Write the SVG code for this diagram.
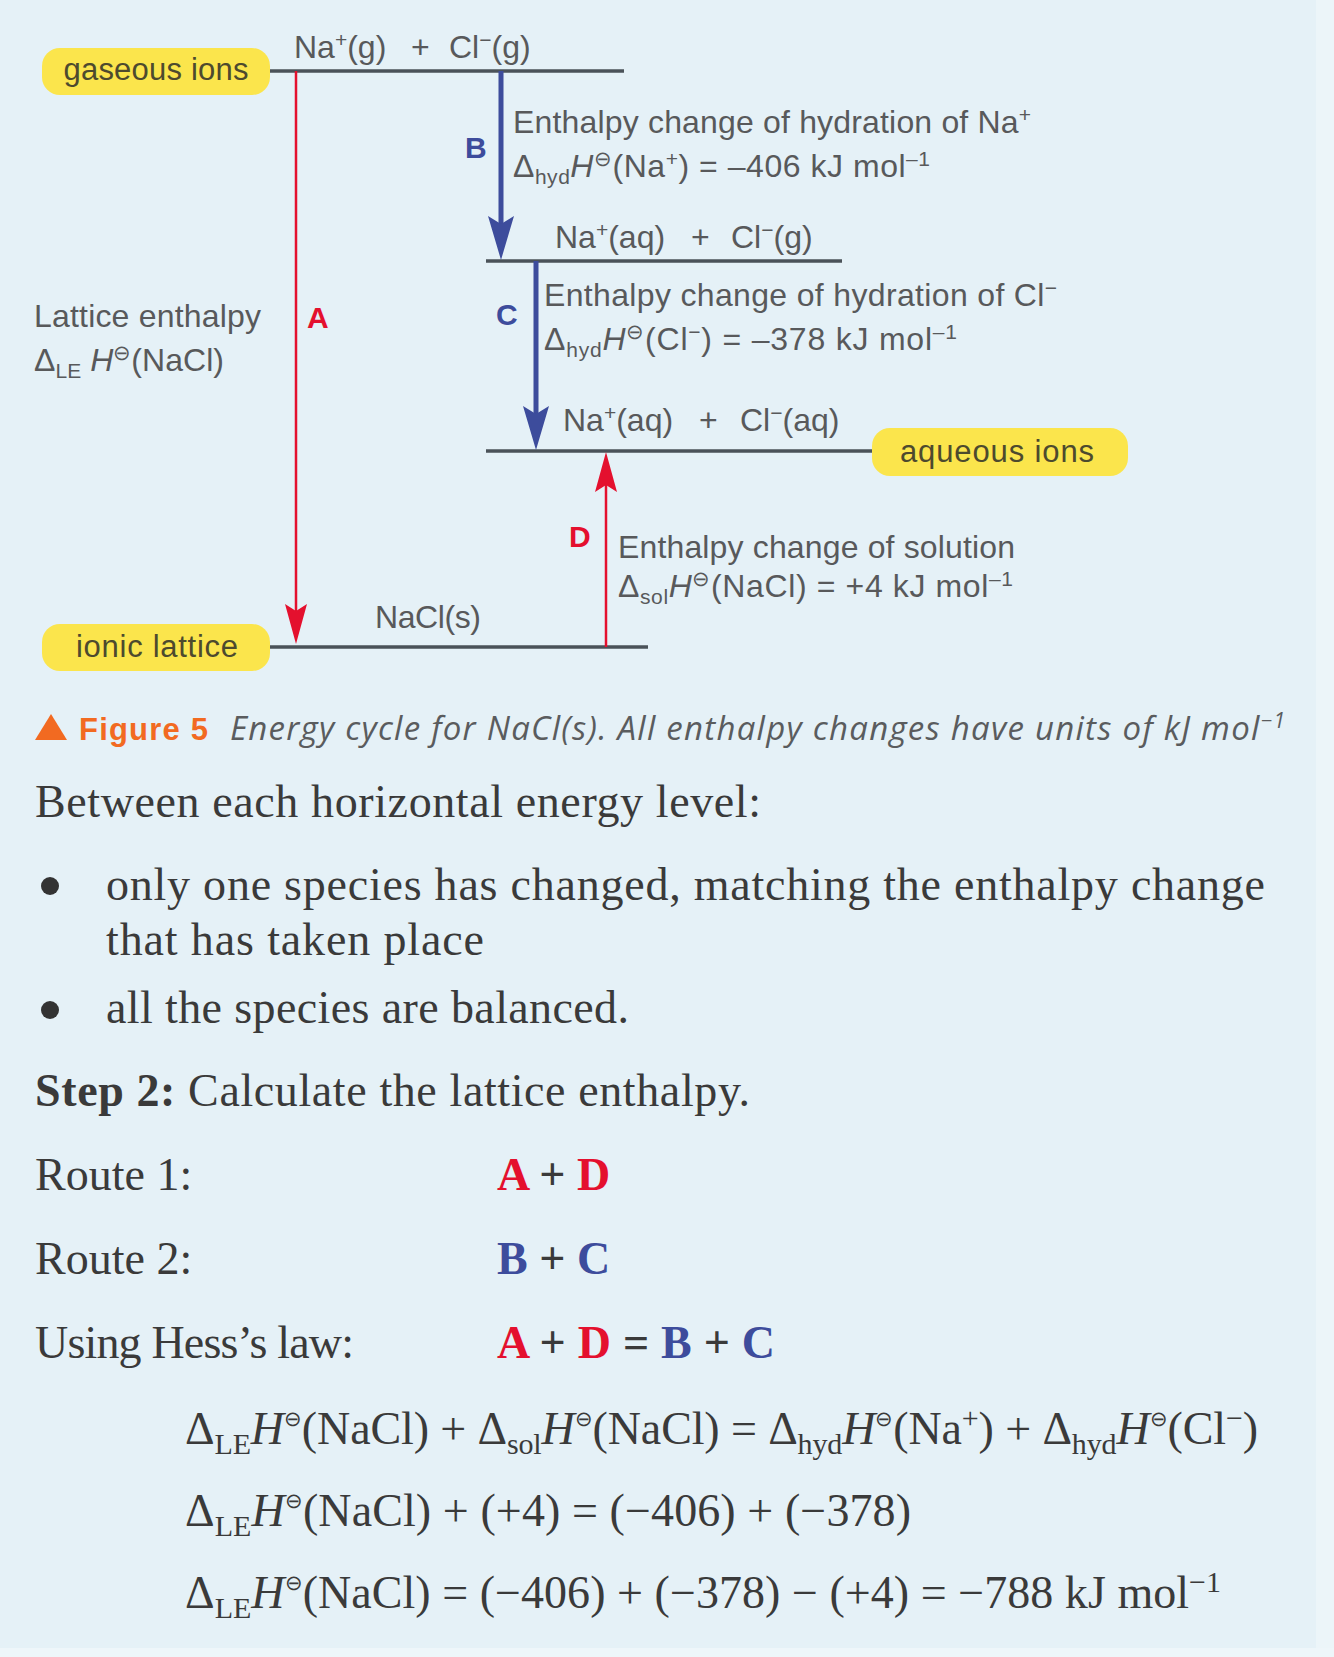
<svg xmlns="http://www.w3.org/2000/svg" width="1334" height="1657" viewBox="0 0 1334 1657">
<style>
.dg{font-family:"Liberation Sans",Arial,sans-serif;font-size:32px;fill:#58595b}
.pill{fill:#fbe54c}
.pt{font-family:"Liberation Sans",Arial,sans-serif;font-size:31px;fill:#4d4a2e;text-anchor:middle}
.lvl{stroke:#4a5259;stroke-width:3.5;fill:none}
.lbl{font-family:"Liberation Sans",Arial,sans-serif;font-size:30px;font-weight:bold}
.red{fill:#e4102e}
.blue{fill:#3d4c9c}
.body{font-family:"Liberation Serif","Times New Roman",serif;font-size:46px;fill:#3a3a3a}
.b{font-weight:bold}
.it{font-style:italic}
.s{font-size:21px}
.sb{font-size:30px}
.cap{font-family:"Open Sans","Liberation Sans",sans-serif;font-size:33px;font-style:italic;fill:#5a5c5e}
.fig{font-family:"Liberation Sans",Arial,sans-serif;font-size:31px;font-weight:bold;fill:#f26a21}
</style>
<defs>
<marker id="ahRed" markerUnits="userSpaceOnUse" viewBox="0 0 40 22" refX="26" refY="11" markerWidth="40" markerHeight="22" orient="auto">
<path d="M0,0 L40,11 L0,22 L7,11 z" fill="#e4102e"/>
</marker>
<marker id="ahBlue" markerUnits="userSpaceOnUse" viewBox="0 0 44 26" refX="28" refY="13" markerWidth="44" markerHeight="26" orient="auto">
<path d="M0,0 L44,13 L0,26 L8,13 z" fill="#3d4c9c"/>
</marker>
</defs>
<rect x="0" y="0" width="1334" height="1657" fill="#e5f1f7"/>
<rect x="1316" y="0" width="18" height="1657" fill="#ecf5f9"/>
<rect x="0" y="1648" width="1334" height="9" fill="#eef6fa"/>

<g id="levels">
<line class="lvl" x1="270" y1="71" x2="624" y2="71"/>
<line class="lvl" x1="486" y1="261" x2="842" y2="261"/>
<line class="lvl" x1="486" y1="451" x2="877" y2="451"/>
<line class="lvl" x1="264" y1="647" x2="648" y2="647"/>
</g>

<g id="connectors">
<line x1="296" y1="71" x2="296" y2="630" stroke="#e4102e" stroke-width="2.5" marker-end="url(#ahRed)"/>
<line x1="606" y1="647" x2="606" y2="466" stroke="#e4102e" stroke-width="2.5" marker-end="url(#ahRed)"/>
<line x1="501" y1="71" x2="501" y2="244" stroke="#3d4c9c" stroke-width="5" marker-end="url(#ahBlue)"/>
<line x1="536" y1="261" x2="536" y2="434" stroke="#3d4c9c" stroke-width="5" marker-end="url(#ahBlue)"/>
</g>

<g id="node-gaseous">
<rect class="pill" x="42" y="48" width="228" height="47" rx="18"/>
<text class="pt" x="156" y="80" textLength="185">gaseous ions</text>
<text class="dg" x="294" y="58">Na<tspan class="s" dy="-11">+</tspan><tspan dy="11">(g)</tspan><tspan x="411">+</tspan><tspan x="449">Cl</tspan><tspan class="s" dy="-11">−</tspan><tspan dy="11">(g)</tspan></text>
</g>

<g id="node-b">
<text class="lbl blue" x="465" y="158">B</text>
<text class="dg" x="513" y="133" textLength="518">Enthalpy change of hydration of Na<tspan class="s" dy="-11">+</tspan></text>
<text class="dg" x="513" y="177" textLength="417">Δ<tspan class="s" dy="7">hyd</tspan><tspan class="it" dy="-7">H</tspan><tspan class="s" dy="-11">⊖</tspan><tspan dy="11">(Na</tspan><tspan class="s" dy="-11">+</tspan><tspan dy="11">) = –406 kJ mol</tspan><tspan class="s" dy="-11">–1</tspan></text>
</g>

<g id="node-level2">
<text class="dg" x="555" y="248">Na<tspan class="s" dy="-11">+</tspan><tspan dy="11">(aq)</tspan><tspan x="691">+</tspan><tspan x="731">Cl</tspan><tspan class="s" dy="-11">−</tspan><tspan dy="11">(g)</tspan></text>
</g>

<g id="node-c">
<text class="lbl blue" x="496" y="325">C</text>
<text class="dg" x="544" y="306" textLength="513">Enthalpy change of hydration of Cl<tspan class="s" dy="-11">−</tspan></text>
<text class="dg" x="544" y="350" textLength="413">Δ<tspan class="s" dy="7">hyd</tspan><tspan class="it" dy="-7">H</tspan><tspan class="s" dy="-11">⊖</tspan><tspan dy="11">(Cl</tspan><tspan class="s" dy="-11">−</tspan><tspan dy="11">) = –378 kJ mol</tspan><tspan class="s" dy="-11">–1</tspan></text>
</g>

<g id="node-aqueous">
<text class="dg" x="563" y="431">Na<tspan class="s" dy="-11">+</tspan><tspan dy="11">(aq)</tspan><tspan x="699">+</tspan><tspan x="740">Cl</tspan><tspan class="s" dy="-11">−</tspan><tspan dy="11">(aq)</tspan></text>
<rect class="pill" x="872" y="428" width="256" height="48" rx="18"/>
<text class="pt" x="997" y="462" textLength="194">aqueous ions</text>
</g>

<g id="node-d">
<text class="lbl red" x="569" y="547">D</text>
<text class="dg" x="618" y="558" textLength="397">Enthalpy change of solution</text>
<text class="dg" x="618" y="597" textLength="395">Δ<tspan class="s" dy="7">sol</tspan><tspan class="it" dy="-7">H</tspan><tspan class="s" dy="-11">⊖</tspan><tspan dy="11">(NaCl) = +4 kJ mol</tspan><tspan class="s" dy="-11">–1</tspan></text>
</g>

<g id="node-a">
<text class="lbl red" x="307" y="328">A</text>
<text class="dg" x="34" y="327" textLength="227">Lattice enthalpy</text>
<text class="dg" x="34" y="371" textLength="190">Δ<tspan class="s" dy="7">LE</tspan><tspan class="it" dy="-7"> H</tspan><tspan class="s" dy="-11">⊖</tspan><tspan dy="11">(NaCl)</tspan></text>
</g>

<g id="node-lattice">
<rect class="pill" x="42" y="624" width="228" height="47" rx="18"/>
<text class="pt" x="157" y="657" textLength="162">ionic lattice</text>
<text class="dg" x="375" y="628" textLength="106">NaCl(s)</text>
</g>

<g id="caption">
<polygon points="35,740 51,714 67,740" fill="#f26a21"/>
<text class="fig" x="79" y="740" textLength="129">Figure 5</text>
<text class="cap" x="230" y="740" textLength="1055">Energy cycle for NaCl(s). All enthalpy changes have units of kJ mol<tspan class="s" dy="-12">−1</tspan></text>
</g>

<g id="body">
<text class="body" x="35" y="817" textLength="726">Between each horizontal energy level:</text>
<circle cx="50" cy="886" r="9" fill="#333"/>
<text class="body" x="106" y="900" textLength="1159">only one species has changed, matching the enthalpy change</text>
<text class="body" x="106" y="955" textLength="378">that has taken place</text>
<circle cx="50" cy="1010" r="9" fill="#333"/>
<text class="body" x="106" y="1023" textLength="523">all the species are balanced.</text>
<text class="body" x="35" y="1106" textLength="715"><tspan class="b">Step 2:</tspan> Calculate the lattice enthalpy.</text>
<text class="body" x="35" y="1190">Route 1:</text>
<text class="body b" x="497" y="1190"><tspan fill="#e4102e">A</tspan> + <tspan fill="#e4102e">D</tspan></text>
<text class="body" x="35" y="1274">Route 2:</text>
<text class="body b" x="497" y="1274"><tspan fill="#3d4c9c">B</tspan> + <tspan fill="#3d4c9c">C</tspan></text>
<text class="body" x="35" y="1358" textLength="319">Using Hess’s law:</text>
<text class="body b" x="497" y="1358" textLength="278"><tspan fill="#e4102e">A</tspan> + <tspan fill="#e4102e">D</tspan> = <tspan fill="#3d4c9c">B</tspan> + <tspan fill="#3d4c9c">C</tspan></text>
</g>

<g id="equations">
<text class="body" x="185" y="1444" textLength="1073">Δ<tspan class="sb" dy="10">LE</tspan><tspan class="it" dy="-10">H</tspan><tspan class="s" dy="-18">⊖</tspan><tspan dy="18">(NaCl) + Δ</tspan><tspan class="sb" dy="10">sol</tspan><tspan class="it" dy="-10">H</tspan><tspan class="s" dy="-18">⊖</tspan><tspan dy="18">(NaCl) = Δ</tspan><tspan class="sb" dy="10">hyd</tspan><tspan class="it" dy="-10">H</tspan><tspan class="s" dy="-18">⊖</tspan><tspan dy="18">(Na</tspan><tspan class="sb" dy="-16">+</tspan><tspan dy="16">) + Δ</tspan><tspan class="sb" dy="10">hyd</tspan><tspan class="it" dy="-10">H</tspan><tspan class="s" dy="-18">⊖</tspan><tspan dy="18">(Cl</tspan><tspan class="sb" dy="-16">−</tspan><tspan dy="16">)</tspan></text>
<text class="body" x="185" y="1526" textLength="726">Δ<tspan class="sb" dy="10">LE</tspan><tspan class="it" dy="-10">H</tspan><tspan class="s" dy="-18">⊖</tspan><tspan dy="18">(NaCl) + (+4) = (−406) + (−378)</tspan></text>
<text class="body" x="185" y="1608" textLength="1036">Δ<tspan class="sb" dy="10">LE</tspan><tspan class="it" dy="-10">H</tspan><tspan class="s" dy="-18">⊖</tspan><tspan dy="18">(NaCl) = (−406) + (−378) − (+4) = −788 kJ mol</tspan><tspan class="sb" dy="-16">−1</tspan></text>
</g>
</svg>
